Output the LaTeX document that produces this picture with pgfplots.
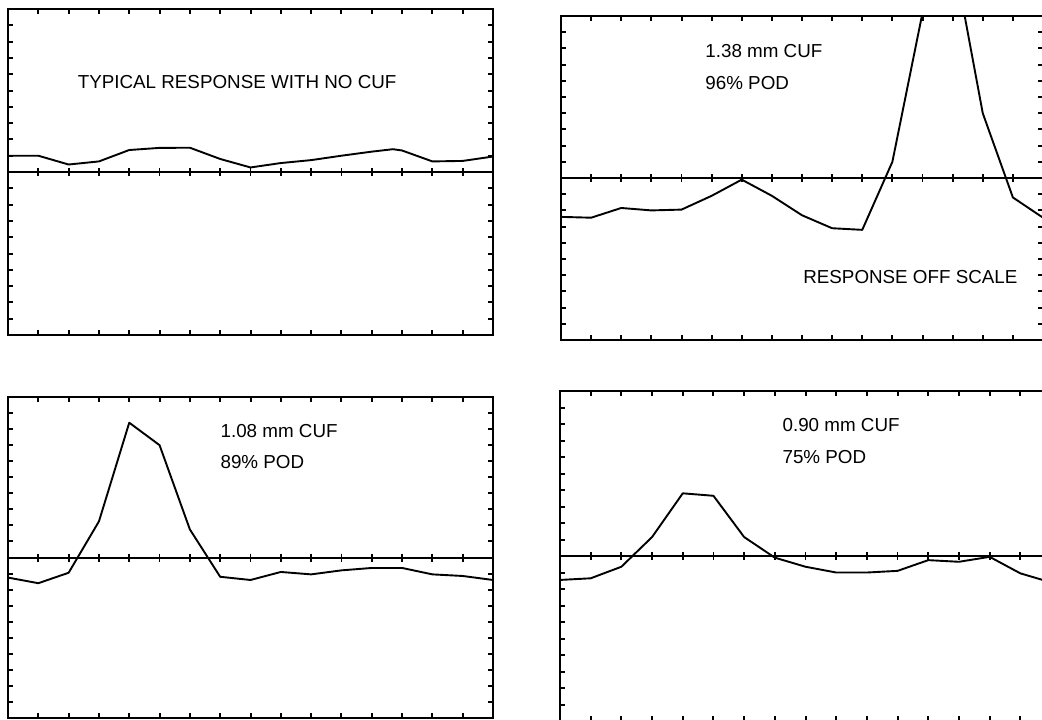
\documentclass[border=0pt]{standalone}
\usepackage{pgfplots}
\pgfplotsset{compat=1.18}
\usepackage{fontspec}
\setmainfont{Liberation Sans}

% common look of the four eddy-current response panels
\pgfplotsset{
  panel/.style={
    scale only axis,
    anchor=south west,
    xmin=0, xmax=16, ymin=-10, ymax=10,
    xtick={1,...,15}, ytick={-9,...,9},
    xticklabels={,,}, yticklabels={,,},
    tick align=inside,
    major tick length=2.6pt,
    every tick/.style={black, line width=1pt},
    axis line style={black, line width=1.1pt},
    clip=true,
  },
  trace/.style={black, line width=0.95pt, mark=none, line join=round},
  zeroline/.style={black, line width=1pt, mark=|, mark size=2pt,
    mark options={line width=0.9pt}},
}
\tikzset{
  lbl/.style={anchor=base west, inner sep=0pt,
    font=\fontsize{9.4}{11}\selectfont},
}

\begin{document}
\begin{tikzpicture}
\useasboundingbox (0,0) rectangle (521pt,-359.5pt);
\clip (0,0) rectangle (521pt,-359.5pt);

% ---- top left: no flaw ----
\begin{axis}[panel, at={(4pt,-167.5pt)}, width=242.5pt, height=163pt]
\addplot[zeroline] coordinates {(0,0) (1,0) (2,0) (3,0) (4,0) (5,0) (6,0) (7,0) (8,0) (9,0) (10,0) (11,0) (12,0) (13,0) (14,0) (15,0) (16,0)};
\addplot[trace] coordinates {
 (0,1.0) (1,1.0) (2,0.46) (3,0.65) (4,1.35) (5,1.48) (6,1.49) (7,0.8)
 (8,0.28) (9,0.55) (10,0.73) (11,1.0) (12,1.25) (12.7,1.4) (13,1.32)
 (14,0.65) (15,0.68) (16,0.95)};
\node[lbl] at (axis cs:2.29,5.14) {TYPICAL RESPONSE WITH NO CUF};
\end{axis}

% ---- top right: 1.38 mm ----
\begin{axis}[panel, at={(280.5pt,-170pt)}, width=241pt, height=162pt]
\addplot[zeroline] coordinates {(0,0) (1,0) (2,0) (3,0) (4,0) (5,0) (6,0) (7,0) (8,0) (9,0) (10,0) (11,0) (12,0) (13,0) (14,0) (15,0) (16,0)};
\addplot[trace] coordinates {
 (0,-2.4) (1,-2.45) (2,-1.85) (3,-2.0) (4,-1.95) (5,-1.1) (6,-0.1)
 (7,-1.1) (8,-2.3) (9,-3.1) (10,-3.2) (11,1.0) (12,10.2) (13,14.0)
 (14,4.0) (15,-1.2) (16,-2.45)};
\node[lbl] at (axis cs:4.78,7.42) {1.38 mm CUF};
\node[lbl] at (axis cs:4.78,5.44) {96\% POD};
\node[lbl] at (axis cs:8.03,-6.49) {RESPONSE OFF SCALE};
\end{axis}

% ---- bottom left: 1.08 mm ----
\begin{axis}[panel, at={(4pt,-359pt)}, width=242.5pt, height=160.5pt]
\addplot[zeroline] coordinates {(0,0) (1,0) (2,0) (3,0) (4,0) (5,0) (6,0) (7,0) (8,0) (9,0) (10,0) (11,0) (12,0) (13,0) (14,0) (15,0) (16,0)};
\addplot[trace] coordinates {
 (0,-1.25) (1,-1.6) (2,-0.95) (3,2.25) (4,8.4) (5,7.0) (6,1.75)
 (7,-1.2) (8,-1.4) (9,-0.9) (10,-1.05) (11,-0.8) (12,-0.65) (13,-0.65)
 (14,-1.05) (15,-1.15) (16,-1.4)};
\node[lbl] at (axis cs:7.0,7.47) {1.08 mm CUF};
\node[lbl] at (axis cs:7.0,5.54) {89\% POD};
\end{axis}

% ---- bottom right: 0.90 mm ----
\begin{axis}[panel, at={(280pt,-360.5pt)}, width=245.5pt, height=165pt]
\addplot[zeroline] coordinates {(0,0) (1,0) (2,0) (3,0) (4,0) (5,0) (6,0) (7,0) (8,0) (9,0) (10,0) (11,0) (12,0) (13,0) (14,0) (15,0) (16,0)};
\addplot[trace] coordinates {
 (0,-1.45) (1,-1.35) (2,-0.65) (3,1.15) (4,3.8) (5,3.65) (6,1.15)
 (7,-0.1) (8,-0.65) (9,-1.0) (10,-1.0) (11,-0.9) (12,-0.25) (13,-0.35)
 (14,-0.05) (15,-1.05) (16,-1.6)};
\node[lbl] at (axis cs:7.24,7.53) {0.90 mm CUF};
\node[lbl] at (axis cs:7.24,5.58) {75\% POD};
\end{axis}
\end{tikzpicture}
\end{document}
